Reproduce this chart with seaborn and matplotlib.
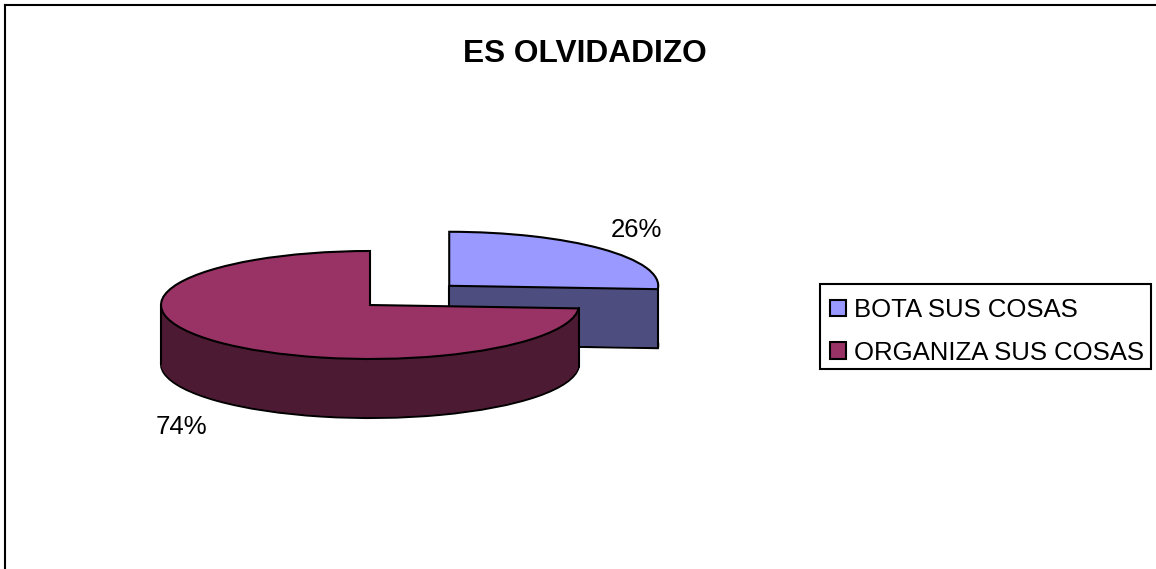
import numpy as np
import matplotlib
matplotlib.use('Agg')
import matplotlib.pyplot as plt
from matplotlib.patches import Rectangle
import seaborn as sns

title = 'ES OLVIDADIZO'
labels = ['BOTA SUS COSAS', 'ORGANIZA SUS COSAS']
values = [26, 74]
top_colors = ['#9999FF', '#993366']
side_colors = ['#4D4D80', '#4D1A33']

sns.set_theme(style='white')
plt.rcParams['font.family'] = ['Liberation Sans', 'DejaVu Sans']

W, H = 1156, 569
RX, RY = 209.0, 54.0   # pie radius on screen, the disc is squashed
DEPTH = 59             # wall height in pixels
LW = 1.5

def px(x, y):
    return x / RX, (H - y) / RY

sns.set_palette(sns.color_palette(top_colors))
fig = plt.figure(figsize=(W / 100, H / 100), dpi=100)
# only the left and top frame lines are inside the picture
ax = fig.add_axes([5 / W, 0, 1, (H - 5) / H])
cx, cy = px(370, 305)
explode = [0.52, 0]

def draw_pie(offset, colors, edge):
    wedges, _ = ax.pie(values, explode=explode, startangle=90, counterclock=False,
                       colors=colors, center=(cx, cy - offset / RY), radius=1,
                       wedgeprops=dict(edgecolor='black' if edge else 'none',
                                       linewidth=LW if edge else 0))
    return wedges

def set_order(wedges, base):
    # blue slice sits behind the maroon one
    wedges[0].set_zorder(1 + base)
    wedges[1].set_zorder(4 + base)

set_order(draw_pie(DEPTH, side_colors, True), 0)
for off in range(DEPTH - 1, 0, -1):
    set_order(draw_pie(off, side_colors, False), 0.5)
top = draw_pie(0, top_colors, True)
set_order(top, 1)

# vertical edges of the walls
d = DEPTH / RY
for i, w in enumerate(top):
    x0, y0 = w.center
    # both slices meet at the same angle on the right
    a = np.deg2rad(w.theta1 if i == 0 else w.theta2)
    edges = [(x0 + np.cos(a), y0 + np.sin(a))]
    edges.append((x0, y0) if i == 0 else (x0 - 1, y0))
    for x, y in edges:
        ax.plot([x, x], [y, y - d], color='black', lw=LW, solid_capstyle='round',
                zorder=w.get_zorder() - 0.2)

ax.set_aspect('auto')
ax.set_xlim(5 / RX, (5 + W) / RX)
ax.set_ylim(0, (H - 5) / RY)
ax.set_xticks([])
ax.set_yticks([])
ax.set_frame_on(True)
for side in ['right', 'bottom']:
    ax.spines[side].set_visible(False)
for side in ['left', 'top']:
    ax.spines[side].set_visible(True)
    ax.spines[side].set_color('black')
    ax.spines[side].set_linewidth(1.5)

ax.text(*px(585, 54), title, fontsize=22.8, fontweight='bold', ha='center', va='center', color='black')
ax.text(*px(636, 230), f'{values[0]}%', fontsize=18.5, ha='center', va='center', color='black')
ax.text(*px(181, 427), f'{values[1]}%', fontsize=18.5, ha='center', va='center', color='black')

# legend box is drawn apart, its padding is not even on all sides
ax.add_patch(Rectangle(px(820, 369), 331 / RX, 85 / RY, facecolor='white',
                       edgecolor='black', linewidth=1.5, zorder=9))
leg = ax.legend(top, labels, loc='upper left', bbox_to_anchor=(830 / W, 1 - 298 / H), bbox_transform=fig.transFigure,
                fontsize=18.5, frameon=False,
                handlelength=0.62, handleheight=0.62, handletextpad=0.3, labelspacing=0.72,
                borderpad=0, borderaxespad=0, labelcolor='black')
leg.set_zorder(10)

fig.savefig('out.png', dpi=100)
